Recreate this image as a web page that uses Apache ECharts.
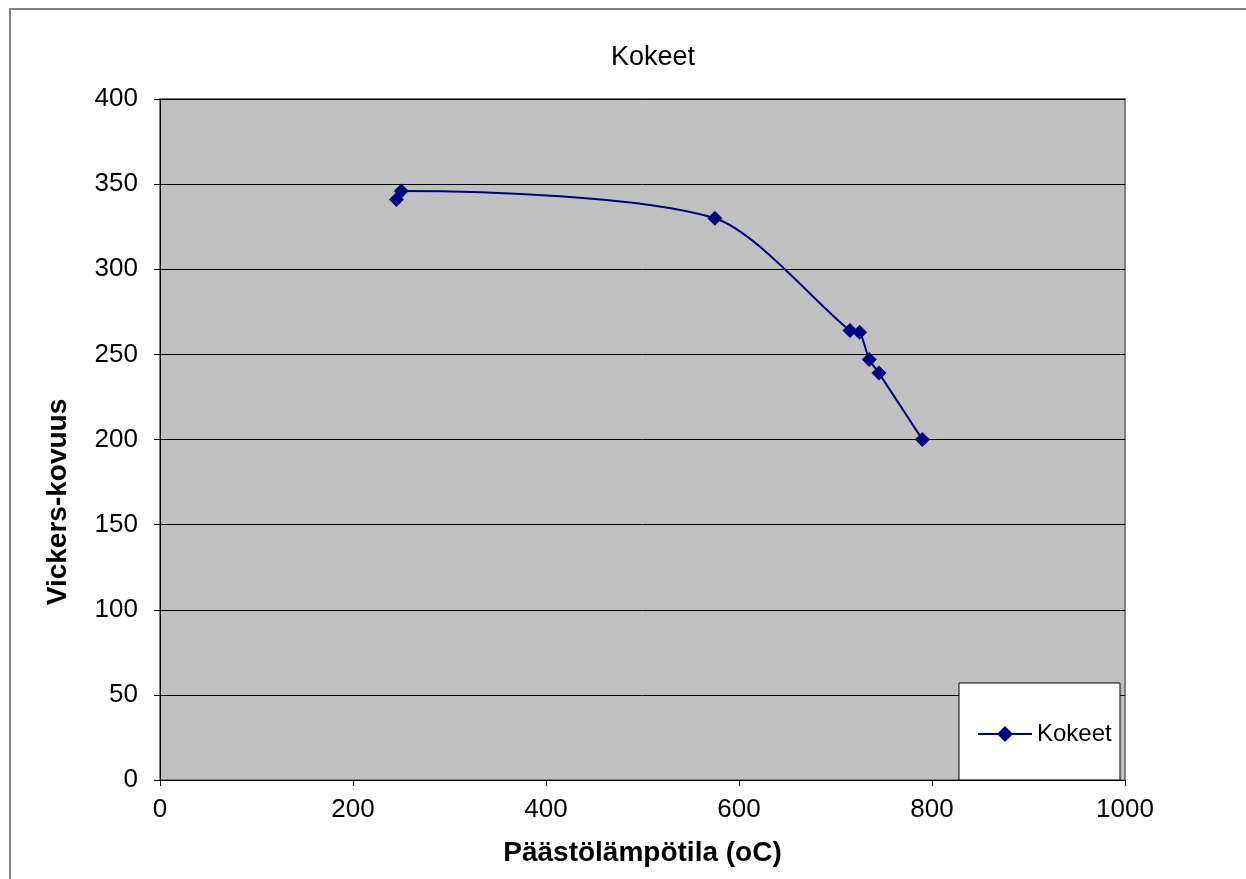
<!DOCTYPE html>
<html>
<head>
<meta charset="utf-8">
<script src="https://cdn.jsdelivr.net/npm/echarts@6/dist/echarts.min.js"></script>
<style>html,body{margin:0;padding:0;background:#fff}#c{width:1246px;height:879px}</style>
</head>
<body>
<div id="c"></div>
<script>
const seriesName = 'Kokeet';
const temps = [245, 250, 575, 715, 725, 735, 745, 790];
const hardness = [341, 346, 330, 264, 263, 247, 239, 200];
const xTicks = [0, 200, 400, 600, 800, 1000];
const yTicks = [0, 50, 100, 150, 200, 250, 300, 350, 400];

const chart = echarts.init(document.getElementById('c'), null, {renderer: 'canvas'});
const font = 'Liberation Sans, Arial, sans-serif';
chart.setOption({
  animation: false,
  backgroundColor: '#fff',
  textStyle: {fontFamily: font},
  title: {
    text: 'Kokeet', left: 648, top: 39, textAlign: 'center',
    textStyle: {fontSize: 27, fontWeight: 'normal', color: '#000', fontFamily: font}
  },
  graphic: [
    {type: 'rect', x: 10, y: 9, shape: {x: 0, y: 0, width: 1400, height: 1000}, style: {fill: 'none', stroke: '#808080', lineWidth: 2}, z: -1},
    {type: 'rect', x: 959, y: 683, shape: {x: 0, y: 0, width: 161, height: 97}, style: {fill: '#fff', stroke: '#000', lineWidth: 1}, z: 10},
    {type: 'text', x: 58, y: 502, rotation: Math.PI / 2,
     style: {text: 'Vickers-kovuus', fill: '#000', font: 'bold 28px Liberation Sans, Arial, sans-serif', align: 'center', verticalAlign: 'middle'}, z: 10}
  ],
  legend: {
    left: 972, top: 717, itemWidth: 54, itemHeight: 20, itemGap: 0, z: 11,
    textStyle: {fontSize: 24, color: '#000', fontFamily: font},
    data: [seriesName]
  },
  grid: {
    left: 160, top: 99, right: 121, bottom: 99, show: true,
    backgroundColor: '#c0c0c0', borderColor: '#808080', borderWidth: 2
  },
  xAxis: {
    type: 'value', min: 0, max: 1000, interval: 200,
    name: 'Päästölämpötila (oC)', nameLocation: 'middle', nameGap: 59,
    nameTextStyle: {fontSize: 28, fontWeight: 'bold', color: '#000', fontFamily: font},
    axisLine: {show: true, lineStyle: {color: '#000', width: 1}},
    axisTick: {show: true, inside: false, length: 6, lineStyle: {color: '#000'}},
    axisLabel: {fontSize: 26, color: '#000', margin: 17, fontFamily: font, formatter: v => String(v)},
    splitLine: {show: false}
  },
  yAxis: {
    type: 'value', min: 0, max: 400, interval: 50,
    axisLine: {show: true, lineStyle: {color: '#000', width: 1}},
    axisTick: {show: true, inside: false, length: 6, lineStyle: {color: '#000'}},
    axisLabel: {fontSize: 26, color: '#000', margin: 22, fontFamily: font, formatter: v => String(v)},
    splitLine: {show: true, lineStyle: {color: '#000', width: 1}}
  },
  series: [{
    name: seriesName, type: 'line', smooth: 0.25,
    data: temps.map((t, i) => [t, hardness[i]]),
    symbol: 'diamond', symbolSize: 15,
    lineStyle: {color: '#000080', width: 2},
    itemStyle: {color: '#000080'},
    z: 5
  }]
});
</script>
</body>
</html>
